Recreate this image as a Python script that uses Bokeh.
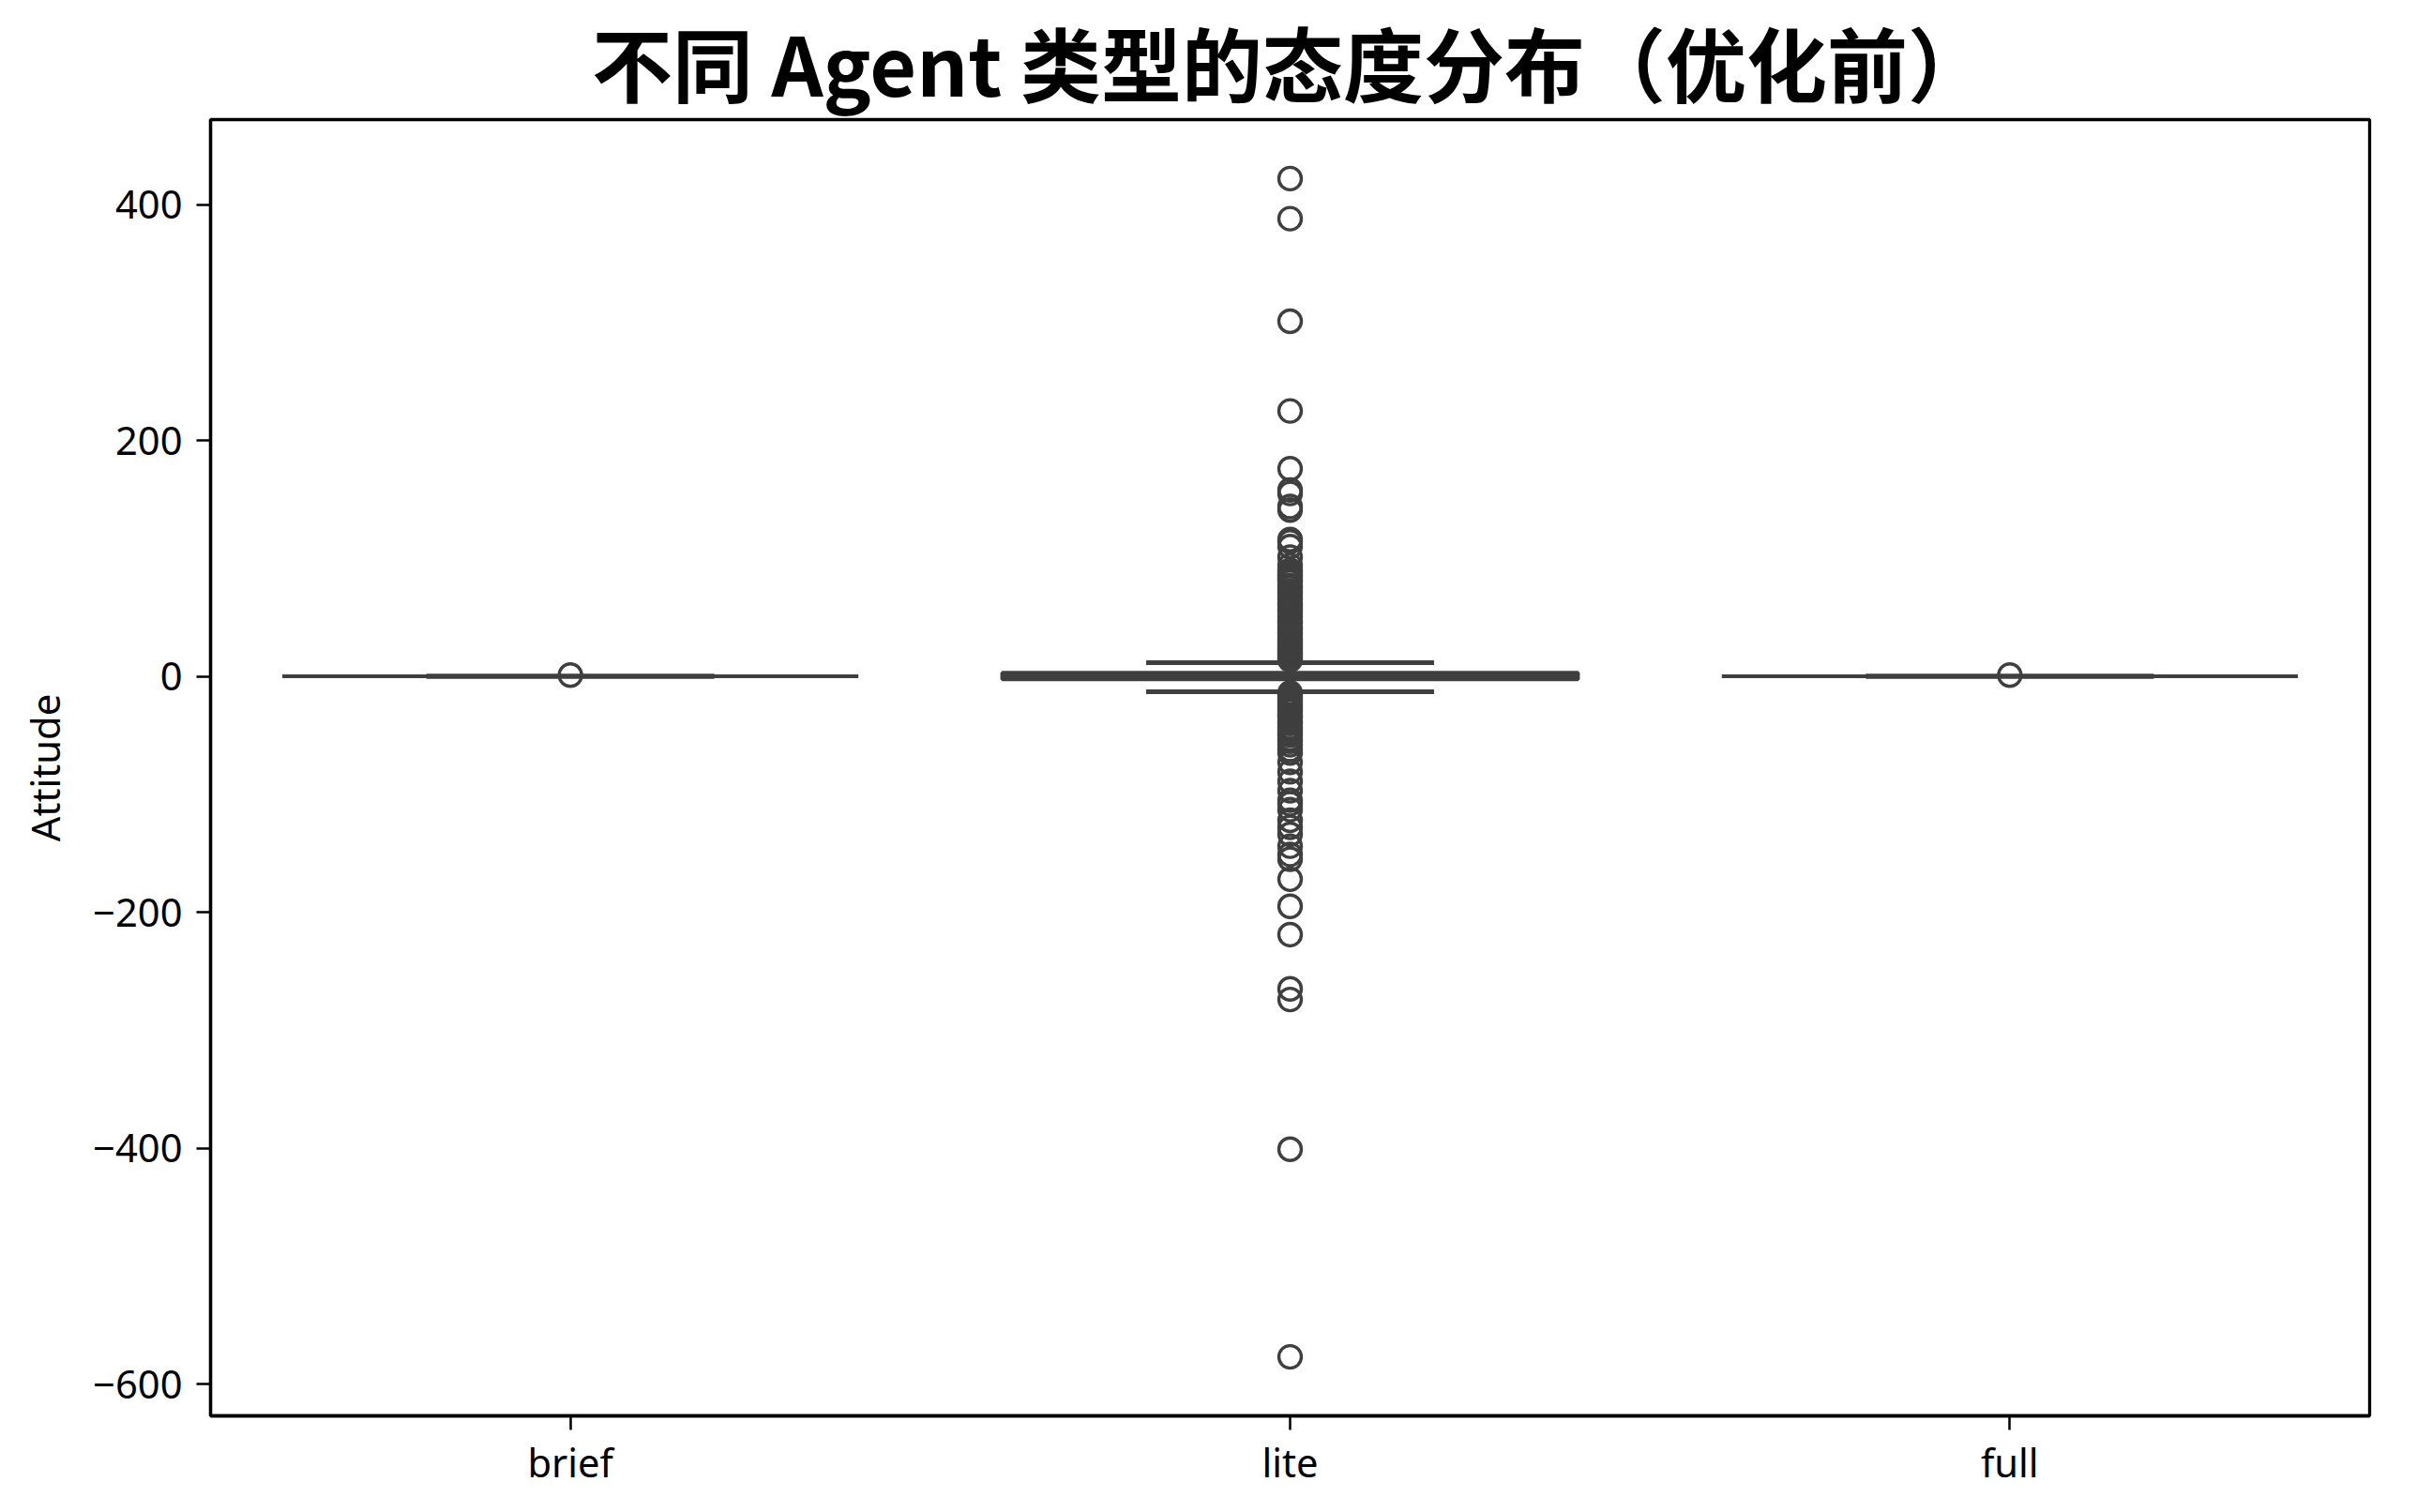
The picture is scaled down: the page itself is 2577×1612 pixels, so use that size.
from bokeh.plotting import figure
from bokeh.models import Range1d, FixedTicker
from bokeh.embed import file_html
from bokeh.resources import INLINE

# ---- data ----
categories = ["brief", "lite", "full"]
q1 = [0.0, -2.5, 0.0]
median = [0.0, 0.0, 0.0]
q3 = [0.0, 3.0, 0.0]
whisker_low = [0.0, -13.0, 0.0]
whisker_high = [0.0, 11.5, 0.0]

brief_outliers = [1.0]
full_outliers = [1.0]
lite_outliers = [
    422, 388, 301, 225, 176, 158, 155, 144, 141, 116, 114, 110, 101, 94,
    90, 88, 86, 84, 82, 80, 77, 75, 72, 70, 67, 65, 62, 60, 57, 55, 52, 50,
    47, 45, 42, 40, 37, 35, 32, 30, 28, 26, 24, 22, 20, 18, 16, 14,
    -14, -16, -18, -20, -22, -24, -26, -28, -30, -33, -35, -38, -40, -43,
    -45, -48, -50, -53, -55, -58, -62, -65, -73, -81, -89, -97, -105, -108,
    -113, -122, -128, -134, -144, -151, -155, -172, -195, -219, -265, -274,
    -401, -577,
]

y_ticks = [-600, -400, -200, 0, 200, 400]
y_tick_labels = ["\u2212600", "\u2212400", "\u2212200", "0", "200", "400"]
title_text = "不同 Agent 类型的态度分布（优化前）"
y_label = "Attitude"

# ---- style ----
DARK = "#3f3f3f"
TICK_FONT = "Noto Sans"
FS = "41.7px"

xs = list(range(len(categories)))
box_w = 0.8
cap_w = 0.4

p = figure(
    width=2577, height=1612,
    x_range=Range1d(-0.5, len(categories) - 0.5),
    y_range=Range1d(-627, 472),
    output_backend="svg", toolbar_location=None,
    min_border_left=224, min_border_right=51,
    min_border_top=123, min_border_bottom=103,
)

p.title.text = title_text
p.title.text_font = "Noto Sans CJK SC"
p.title.text_font_size = "86px"
p.title.text_font_style = "bold"
p.title.align = "center"
p.title.text_color = "black"
p.title.standoff = 0

p.xgrid.grid_line_color = None
p.ygrid.grid_line_color = None
p.outline_line_color = "black"
p.outline_line_width = 3.3
p.outline_line_alpha = 1.0
p.background_fill_color = "white"
p.border_fill_color = "white"

p.xaxis.ticker = FixedTicker(ticks=xs)
p.xaxis.major_label_overrides = {i: c for i, c in enumerate(categories)}
p.yaxis.ticker = FixedTicker(ticks=y_ticks)
p.yaxis.major_label_overrides = {t: l for t, l in zip(y_ticks, y_tick_labels)}

for ax in (p.xaxis, p.yaxis):
    ax.axis_line_color = "black"
    ax.axis_line_width = 3.3
    ax.major_tick_in = 0
    ax.major_tick_out = 15
    ax.major_tick_line_width = 2.5
    ax.major_tick_line_color = "black"
    ax.minor_tick_line_color = None
    ax.major_label_text_font = TICK_FONT
    ax.major_label_text_font_size = FS
    ax.major_label_text_color = "black"
    ax.major_label_standoff = 15
p.xaxis.major_label_standoff = 5

p.yaxis.axis_label = y_label
p.yaxis.axis_label_text_font = TICK_FONT
p.yaxis.axis_label_text_font_size = FS
p.yaxis.axis_label_text_font_style = "normal"
p.yaxis.axis_label_text_color = "black"
p.yaxis.axis_label_standoff = 20

# boxes
p.vbar(x=xs, width=box_w, bottom=q1, top=q3,
       fill_color=DARK, line_color=DARK, line_width=4)
# whisker stems
p.segment(x0=xs, y0=q3, x1=xs, y1=whisker_high, line_color=DARK, line_width=4)
p.segment(x0=xs, y0=q1, x1=xs, y1=whisker_low, line_color=DARK, line_width=4)
# caps
p.segment(x0=[x - cap_w / 2 for x in xs], y0=whisker_high,
          x1=[x + cap_w / 2 for x in xs], y1=whisker_high,
          line_color=DARK, line_width=5)
p.segment(x0=[x - cap_w / 2 for x in xs], y0=whisker_low,
          x1=[x + cap_w / 2 for x in xs], y1=whisker_low,
          line_color=DARK, line_width=5)
# medians
p.segment(x0=[x - box_w / 2 for x in xs], y0=median,
          x1=[x + box_w / 2 for x in xs], y1=median,
          line_color=DARK, line_width=4)

# outliers
groups = [brief_outliers, lite_outliers, full_outliers]
for x, vals in zip(xs, groups):
    p.scatter(x=[x] * len(vals), y=vals, marker="circle", size=24,
              fill_color=None, line_color=DARK, line_width=3.4)

open("out.html", "w").write(file_html(p, INLINE))
